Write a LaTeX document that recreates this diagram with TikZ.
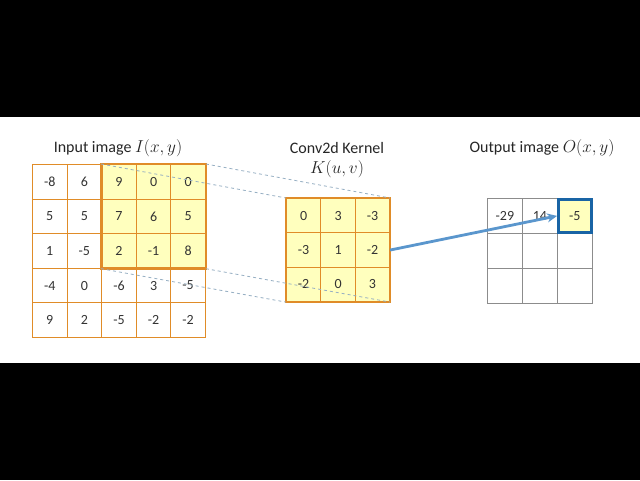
\documentclass[tikz,border=0pt]{standalone}
\usepackage{fontspec}
\setmainfont{Carlito}
\usetikzlibrary{arrows.meta}
\definecolor{org}{RGB}{224,140,40}
\definecolor{yel}{RGB}{255,255,190}
\definecolor{arr}{RGB}{90,150,205}
\definecolor{dblue}{RGB}{25,100,165}
\definecolor{dashcol}{RGB}{150,175,195}
\begin{document}
\begin{tikzpicture}[x=1pt,y=-1pt,
  num/.style={font=\fontsize{14}{16}\selectfont,text=black!80},
  ttl/.style={font=\fontsize{16}{18}\selectfont,text=black!85},
  guide/.style={draw=dashcol,dashed,line width=0.8pt}]
\useasboundingbox (0,0) rectangle (640,480);
\fill[black] (0,0) rectangle (640,480);
\fill[white] (0,117) rectangle (640,363);
% input
\fill[yel] (101,164) rectangle (205,268);
\def\c{34.6}
\foreach \r [count=\i from 0] in {{-8,6,9,0,0},{5,5,7,6,5},{1,-5,2,-1,8},{-4,0,-6,3,-5},{9,2,-5,-2,-2}}{
  \foreach \v [count=\j from 0] in \r {
    \node[num,draw=org,line width=0.9pt,minimum size=\c pt,inner sep=0pt,anchor=north west] (i\i\j) at (32+\j*\c,164+\i*\c) {\v};
  }}
\node[ttl] (ti) at (118,148) {Input image $I(x,y)$};
% kernel
\fill[yel] (286,198) rectangle (389,302);
\foreach \r [count=\i from 0] in {{0,3,-3},{-3,1,-2},{-2,0,3}}{
  \foreach \v [count=\j from 0] in \r {
    \node[num,draw=org,line width=0.9pt,minimum size=34.4pt,inner sep=0pt,anchor=north west] (k\i\j) at (286+\j*34.4,198+\i*34.4) {\v};
  }}
\node[ttl] (tk) at (337,148) {Conv2d Kernel};
\node[ttl] (tk2) at (337,169) {$K(u,v)$};
% highlight boxes
\draw[org,line width=2.6pt] (i02.north west) rectangle (i24.south east);
\draw[org,line width=2.6pt] (k00.north west) rectangle (k22.south east);
\draw[guide] (i02.north west) -- (k00.north west);
\draw[guide] (i04.north east) -- (k02.north east);
\draw[guide] (i22.south west) -- (k20.south west);
\draw[guide] (i24.south east) -- (k22.south east);
% output
\foreach \i in {0,1,2}{\foreach \j in {0,1,2}{
  \node[draw=black!45,line width=0.8pt,minimum size=35pt,inner sep=0pt,anchor=north west] (o\i\j) at (487+\j*35,198+\i*35) {};
}}
\node[num] at (o00) {-29};
\node[num] at (o01) {14};
\node[num,fill=yel,draw=dblue,line width=2.6pt,minimum size=33pt] (o02h) at (o02) {-5};
\node[ttl] (to) at (542,148) {Output image $O(x,y)$};
\draw[arr,line width=2.8pt,-{Stealth[length=10pt,width=9pt]}] (k12.east) -- (o02h.west);
\end{tikzpicture}
\end{document}
